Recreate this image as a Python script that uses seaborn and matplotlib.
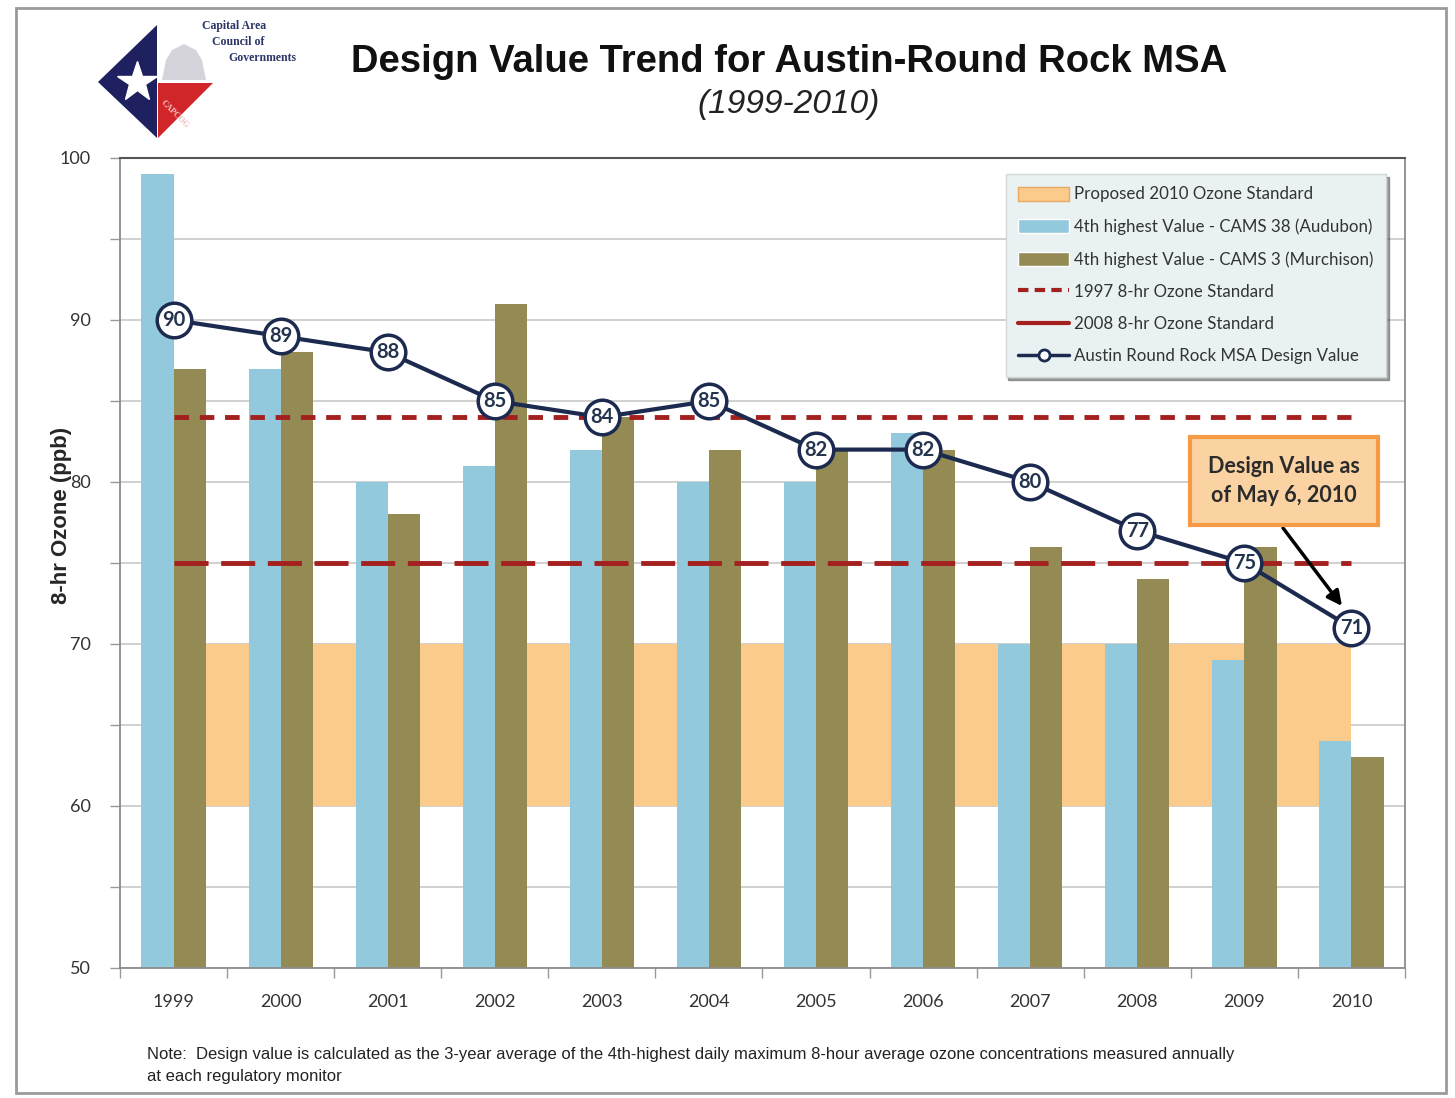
import numpy as np
import pandas as pd
import matplotlib.pyplot as plt
import seaborn as sns
from matplotlib.patches import Patch, Polygon, Rectangle, FancyArrowPatch
from matplotlib.lines import Line2D

# chart values
years = ["1999", "2000", "2001", "2002", "2003", "2004",
         "2005", "2006", "2007", "2008", "2009", "2010"]
audubon = [99, 87, 80, 81, 82, 80, 80, 83, 70, 70, 69, 64]
murchison = [87, 88, 78, 91, 84, 82, 82, 82, 76, 74, 76, 63]
design_value = [90, 89, 88, 85, 84, 85, 82, 82, 80, 77, 75, 71]
std_1997 = 84
std_2008 = 75
proposed_2010 = (60, 70)

site_names = ["4th highest Value - CAMS 38 (Audubon)",
              "4th highest Value - CAMS 3 (Murchison)"]

c_blue = "#92c9dc"
c_olive = "#948a54"
c_orange = "#fbcb8c"
c_red = "#a3201f"
c_navy = "#1b2a4e"

df = pd.DataFrame({
    "year": years * 2,
    "value": audubon + murchison,
    "site": [site_names[0]] * len(years) + [site_names[1]] * len(years),
})

sns.set_theme(style="white")
plt.rcParams["font.family"] = ["Lato", "DejaVu Sans"]

W, H = 1455, 1098
fig = plt.figure(figsize=(W / 100, H / 100), dpi=100)
ax = fig.add_axes([120 / W, 1 - 968 / H, 1285 / W, 810 / H])

pos = np.arange(len(years))

# proposed standard band
ax.fill_between([pos[0], pos[-1]], proposed_2010[0], proposed_2010[1],
                color=c_orange, zorder=1, linewidth=0)

sns.barplot(data=df, x="year", y="value", hue="site",
            palette=[c_blue, c_olive], width=0.6, gap=0,
            saturation=1, ax=ax, zorder=2, legend=False, linewidth=0)

ax.plot([pos[0], pos[-1]], [std_1997, std_1997], color=c_red, lw=3.5,
        dashes=(3, 2.2), zorder=3)
ax.plot([pos[0], pos[-1]], [std_2008, std_2008], color=c_red, lw=3.5,
        dashes=(7, 2.6), zorder=3)

sns.lineplot(x=pos, y=design_value, color=c_navy, lw=3, ax=ax, zorder=4)
ax.scatter(pos, design_value, s=620, facecolor="white", edgecolor=c_navy,
           linewidth=2.5, zorder=5)
for x, v in zip(pos, design_value):
    ax.text(x, v, str(v), ha="center", va="center", fontsize=14.5,
            fontweight="bold", color="#24344f", zorder=6)

ax.set_ylim(50, 100)
ax.set_xlim(-0.5, len(years) - 0.5)
ax.set_yticks(np.arange(50, 101, 5))
ax.set_yticklabels([str(v) if v % 10 == 0 else "" for v in range(50, 101, 5)])
ax.yaxis.grid(True, color="#c8c8c8", lw=1.2, zorder=0)
ax.set_axisbelow(True)
ax.tick_params(axis="y", left=True, length=7, width=1, color="#999999",
               labelsize=13, labelcolor="#333333", pad=14)
ax.set_xticks(pos)
ax.set_xticklabels(years)
ax.set_xticks(np.arange(-0.5, len(years), 1), minor=True)
ax.tick_params(axis="x", which="major", bottom=False, labelsize=13,
               labelcolor="#333333", pad=13)
ax.tick_params(axis="x", which="minor", bottom=True, length=7, width=1,
               color="#999999")
ax.set_xlabel("")
ax.set_ylabel("8-hr Ozone (ppb)", fontsize=16, fontweight="bold",
              family=["Liberation Sans"])
ax.yaxis.set_label_coords((72 - 120) / 1285, (968 - 515) / 810)
for side in ["left", "bottom", "right"]:
    ax.spines[side].set_color("#8c8c8c")
    ax.spines[side].set_linewidth(1.3)
ax.spines["top"].set_color("#555555")
ax.spines["top"].set_linewidth(1.5)

handles = [
    Patch(facecolor=c_orange, edgecolor="#e8a860"),
    Patch(facecolor=c_blue),
    Patch(facecolor=c_olive),
    Line2D([], [], color=c_red, lw=3, dashes=(2.5, 1.5)),
    Line2D([], [], color=c_red, lw=3),
    Line2D([], [], color=c_navy, lw=2.5, marker="o", markersize=8,
           markerfacecolor="white", markeredgewidth=2),
]
labels = ["Proposed 2010 Ozone Standard", site_names[0], site_names[1],
          "1997 8-hr Ozone Standard", "2008 8-hr Ozone Standard",
          "Austin Round Rock MSA Design Value"]
leg = ax.legend(handles, labels, loc="upper right",
                bbox_to_anchor=(0.992, 0.991), fontsize=12.2,
                frameon=True, fancybox=False, shadow=True,
                facecolor="#e9f1f3", edgecolor="#d0d8da", framealpha=1,
                handlelength=3.0, handleheight=0.9, labelspacing=0.95,
                borderpad=0.75, handletextpad=0.3)
for t in leg.get_texts():
    t.set_color("#333333")
leg.set_zorder(10)

# annotation box with arrow
fig.text(1284 / W, 1 - 481 / H, "Design Value as\nof May 6, 2010",
         ha="center", va="center", fontsize=15.5, fontweight="bold",
         color="#2b2b2b", linespacing=1.5, zorder=11,
         bbox=dict(boxstyle="square,pad=0.85", facecolor="#fbd3a3",
                   edgecolor="#f79a46", linewidth=3))
arrow = FancyArrowPatch((1283 / W, 1 - 528 / H), (1342 / W, 1 - 606 / H),
                        transform=fig.transFigure, arrowstyle="-|>",
                        color="black", lw=2.5, mutation_scale=22,
                        shrinkA=0, shrinkB=0, zorder=11)
fig.add_artist(arrow)

# titles
fig.text(789 / W, 1 - 62 / H, "Design Value Trend for Austin-Round Rock MSA",
         ha="center", va="center", fontsize=27.5, fontweight="bold",
         family=["Liberation Sans"], color="#111111")
fig.text(789 / W, 1 - 105 / H, "(1999-2010)", ha="center", va="center",
         fontsize=24, style="italic", family=["Liberation Sans"],
         color="#222222")

# note
fig.text(147 / W, 1 - 1055 / H,
         "Note:  Design value is calculated as the 3-year average of the "
         "4th-highest daily maximum 8-hour average ozone concentrations "
         "measured annually",
         ha="left", va="center", fontsize=12, family=["Liberation Sans"],
         color="#222222")
fig.text(147 / W, 1 - 1076 / H, "at each regulatory monitor",
         ha="left", va="center", fontsize=12, family=["Liberation Sans"],
         color="#222222")

# logo
def fp(x, y):
    return (x / W, 1 - y / H)

fig.add_artist(Polygon([fp(98, 82), fp(157, 25), fp(157, 138)],
                       closed=True, facecolor="#1f2060", edgecolor="none",
                       transform=fig.transFigure))
fig.add_artist(Polygon([fp(158, 83), fp(213, 83), fp(158, 138)],
                       closed=True, facecolor="#d0262a", edgecolor="none",
                       transform=fig.transFigure))
fig.add_artist(Polygon([fp(162, 80), fp(166, 60), fp(172, 50), fp(184, 44),
                        fp(196, 50), fp(202, 60), fp(206, 80)],
                       closed=True, facecolor="#d4d4da", edgecolor="none",
                       transform=fig.transFigure))
fig.add_artist(Line2D([137 / W], [1 - 82 / H], marker="*", markersize=30,
                      color="white", markeredgecolor="white",
                      transform=fig.transFigure))
fig.text(fp(175, 114)[0], fp(175, 114)[1], "CAPCOG", rotation=-45,
         ha="center", va="center", fontsize=6, color="#f0c0c0",
         family=["Liberation Serif"], fontweight="bold")
for txt, x, y in [("Capital Area", 234, 26), ("Council of", 238, 42),
                  ("Governments", 262, 58)]:
    fig.text(x / W, 1 - y / H, txt, ha="center", va="center", fontsize=8.5,
             fontweight="bold", family=["Liberation Serif"], color="#2a3566")

# outer frame
fig.add_artist(Rectangle((16 / W, 5 / H), 1430 / W, 1085 / H, fill=False,
                         edgecolor="#9a9a9a", lw=2, transform=fig.transFigure))

fig.savefig("out.png", dpi=100, facecolor="white")
